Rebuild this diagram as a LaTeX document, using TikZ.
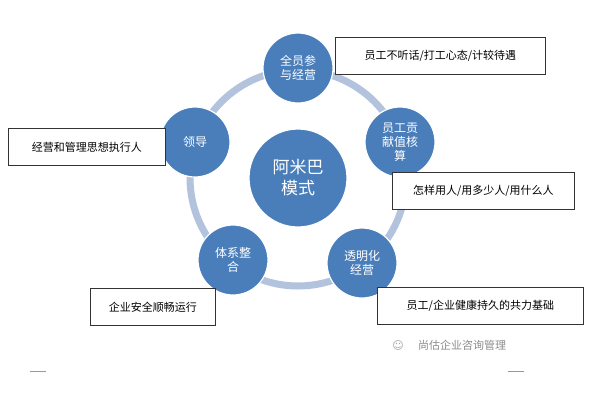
\documentclass[tikz,border=0pt]{standalone}
\usepackage{fontspec}
\setmainfont{Noto Sans CJK SC}
\begin{document}
\begin{tikzpicture}[x=1pt,y=-1pt,
  circ/.style={circle,fill=cblue,draw=white,line width=1.2pt,minimum size=70pt,inner sep=0pt,text=white,font=\fontsize{12}{14}\selectfont,align=center},
  lbox/.style={draw=black!80,line width=0.8pt,fill=white,minimum height=37pt,anchor=north west,font=\fontsize{11}{13}\selectfont,inner xsep=8pt,text=black}]
\definecolor{cblue}{HTML}{4A7EBB}
\definecolor{ring}{HTML}{B3C3DD}
\useasboundingbox[fill=white] (0,0) rectangle (600,400);
\coordinate (c) at (298,178);
\draw[ring,line width=7pt] (c) circle[radius=108];
\node[circ,minimum size=98pt,font=\fontsize{17}{21}\selectfont] (m) at (c) {阿米巴\\模式};
\node[circ] (t) at (298,68) {全员参\\与经营};
\node[circ] (r) at (400,142) {员工贡\\献值核\\算};
\node[circ] (br) at (362,263) {透明化\\经营};
\node[circ] (bl) at (233,260) {体系整\\合};
\node[circ] (l) at (195,142) {领导};
\node[lbox,minimum width=210pt] (b1) at (335,37) {员工不听话/打工心态/计较待遇};
\node[lbox,minimum width=157pt] (b2) at (8,128) {经营和管理思想执行人};
\node[lbox,minimum width=182pt] (b3) at (392,172) {怎样用人/用多少人/用什么人};
\node[lbox,minimum width=125pt] (b4) at (90,288) {企业安全顺畅运行};
\node[lbox,minimum width=206pt] (b5) at (377,287) {员工/企业健康持久的共力基础};
\node[text=black!45,font=\fontsize{11}{13}\selectfont] (w) at (462,345) {尚估企业咨询管理};
\node[text=black!35,font=\fontsize{11}{13}\selectfont] (wi) at (398,345) {\fontspec{DejaVu Sans}☺};
\coordinate (u1) at (30,371); \coordinate (u2) at (46,371);
\coordinate (u3) at (508,371); \coordinate (u4) at (524,371);
\draw[black!40] (u1) -- (u2);
\draw[black!40] (u3) -- (u4);
\end{tikzpicture}
\end{document}
